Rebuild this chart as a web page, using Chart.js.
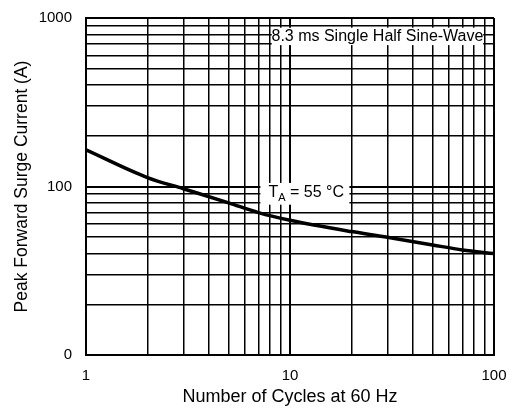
<!DOCTYPE html>
<html>
<head>
<meta charset="utf-8">
<title>Peak Forward Surge Current</title>
<script src="https://cdn.jsdelivr.net/npm/chart.js@4/dist/chart.umd.min.js"></script>
<style>
  html, body { margin: 0; padding: 0; background: #fff; }
  #wrap { width: 512px; height: 410px; }
</style>
</head>
<body>
<div id="wrap"><canvas id="surge" width="512" height="410"></canvas></div>
<script>
// Curve
const cycles = [1, 2, 3, 5, 7, 10, 20, 30, 50, 70, 100];
const surgeCurrent = [165, 113, 97, 80, 70, 63, 54, 50, 45, 42, 40];

// Log grid lines and the labelled decades
const xGrid = [1, 2, 3, 4, 5, 6, 7, 8, 9, 10, 20, 30, 40, 50, 60, 70, 80, 90, 100];
const yGrid = [10, 20, 30, 40, 50, 60, 70, 80, 90, 100, 200, 300, 400, 500, 600, 700, 800, 900, 1000];
const xMajor = [1, 10, 100];
const xTickLabels = ['1', '10', '100'];
const yMajor = [10, 100, 1000];
const yTickLabels = ['0', '100', '1000'];

const FONT = '"Liberation Sans", Arial, Helvetica, sans-serif';

// Notes printed inside the plot
const sineNote = '8.3 ms Single Half Sine-Wave';
const tempNote = { main: 'T', sub: 'A', rest: ' = 55 °C' };

const labelFor = (majors, labels) => (value) => {
  const i = majors.indexOf(Number(value));
  return i >= 0 ? labels[i] : '';
};

const gridWidth = (majors) => (ctx) => {
  const v = ctx.tick ? ctx.tick.value : null;
  return majors.includes(v) ? 2 : 1.5;
};

const notesPlugin = {
  id: 'notes',
  afterDatasetsDraw(chart) {
    const { ctx, scales: { x, y } } = chart;
    ctx.save();

    // 8.3 ms box, between the 8 and 90 cycle lines
    let left = x.getPixelForValue(8) + 1.5;
    let right = x.getPixelForValue(90) - 1.5;
    let top = y.getPixelForValue(900) + 2;
    let bottom = y.getPixelForValue(700) + 1;
    ctx.fillStyle = '#fff';
    ctx.fillRect(left, top, right - left, bottom - top);
    ctx.fillStyle = '#000';
    ctx.font = '16px ' + FONT;
    ctx.textAlign = 'center';
    ctx.textBaseline = 'middle';
    ctx.fillText(sineNote, (left + right) / 2, (top + bottom) / 2);

    // T_A box
    left = x.getPixelForValue(7) + 2;
    right = x.getPixelForValue(20) - 2;
    top = y.getPixelForValue(105);
    bottom = y.getPixelForValue(78);
    ctx.fillStyle = '#fff';
    ctx.fillRect(left, top, right - left, bottom - top);
    ctx.fillStyle = '#000';
    ctx.textAlign = 'left';
    const base = top + 14;
    let cx = left + 8;
    ctx.textBaseline = 'alphabetic';
    ctx.font = '16px ' + FONT;
    ctx.fillText(tempNote.main, cx, base);
    cx += ctx.measureText(tempNote.main).width;
    ctx.font = '11px ' + FONT;
    ctx.fillText(tempNote.sub, cx, base + 4);
    cx += ctx.measureText(tempNote.sub).width;
    ctx.font = '16px ' + FONT;
    ctx.fillText(tempNote.rest, cx, base);

    ctx.restore();
  }
};

new Chart(document.getElementById('surge'), {
  type: 'line',
  data: {
    datasets: [{
      data: cycles.map((c, i) => ({ x: c, y: surgeCurrent[i] })),
      borderColor: '#000',
      borderWidth: 3.5,
      pointRadius: 0,
      cubicInterpolationMode: 'monotone',
      fill: false
    }]
  },
  options: {
    responsive: false,
    animation: false,
    layout: { padding: { top: 18, right: 18, left: 0, bottom: 0 } },
    plugins: {
      legend: { display: false },
      tooltip: { enabled: false }
    },
    scales: {
      x: {
        type: 'logarithmic',
        min: 1,
        max: 100,
        afterBuildTicks: (s) => { s.ticks = xGrid.map(v => ({ value: v })); },
        afterFit: (s) => { s.height = 55; },
        ticks: {
          autoSkip: false,
          maxRotation: 0,
          padding: 0,
          color: '#000',
          font: { family: FONT, size: 15 },
          callback: labelFor(xMajor, xTickLabels)
        },
        // tick marks are invisible, they only push the labels off the axis
        grid: { color: '#000', lineWidth: gridWidth(xMajor), drawTicks: true, tickLength: 12, tickColor: 'rgba(0,0,0,0)' },
        border: { display: true, color: '#000', width: 2 },
        title: {
          display: true,
          text: 'Number of Cycles at 60 Hz',
          color: '#000',
          font: { family: FONT, size: 18 },
          padding: { top: 0, bottom: 2 }
        }
      },
      y: {
        type: 'logarithmic',
        min: 10,
        max: 1000,
        afterBuildTicks: (s) => { s.ticks = yGrid.map(v => ({ value: v })); },
        afterFit: (s) => { s.width = 86; },
        ticks: {
          autoSkip: false,
          padding: 0,
          color: '#000',
          font: { family: FONT, size: 15 },
          callback: labelFor(yMajor, yTickLabels)
        },
        grid: { color: '#000', lineWidth: gridWidth(yMajor), drawTicks: true, tickLength: 14, tickColor: 'rgba(0,0,0,0)' },
        border: { display: true, color: '#000', width: 2 },
        title: {
          display: true,
          text: 'Peak Forward Surge Current (A)',
          color: '#000',
          font: { family: FONT, size: 17.5 },
          padding: { top: 12, bottom: 0 }
        }
      }
    }
  },
  plugins: [notesPlugin]
});
</script>
</body>
</html>
